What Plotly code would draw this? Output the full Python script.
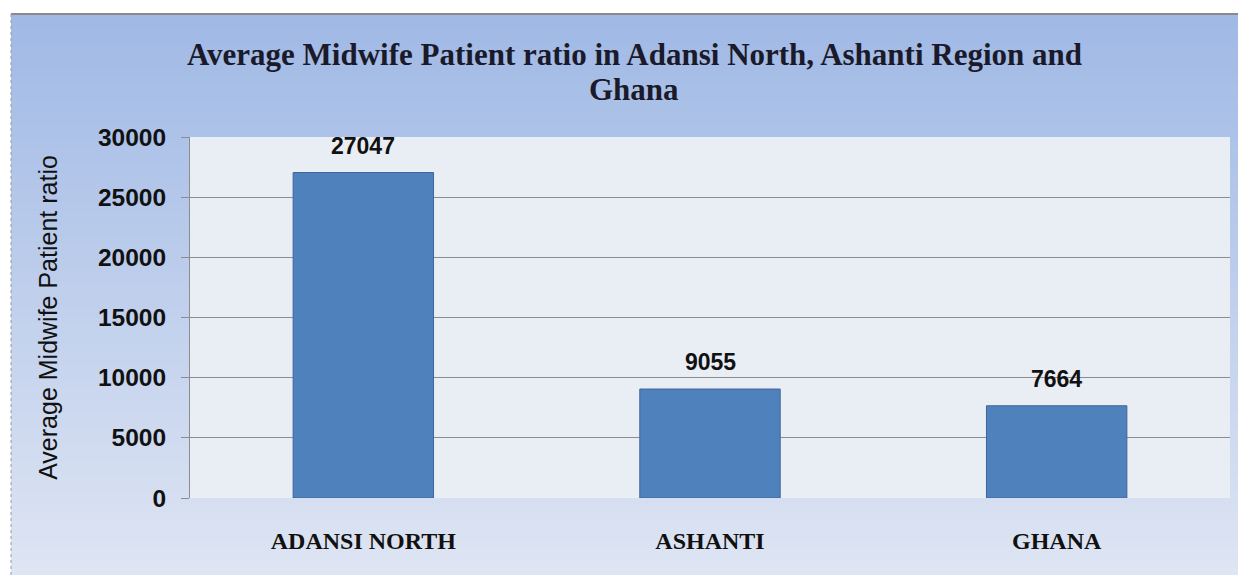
import plotly.graph_objects as go

categories = ["ADANSI NORTH", "ASHANTI", "GHANA"]
values = [27047, 9055, 7664]
y_ticks = [0, 5000, 10000, 15000, 20000, 25000, 30000]
title_lines = ["Average Midwife Patient ratio in Adansi North, Ashanti Region and", "Ghana"]

OFF = 8  # page body margin
W, H = 1246 - OFF, 575 - OFF
L, T = 190 - OFF, 137 - OFF
R = W - (1230 - OFF)
B = H - (498 - OFF)
PW, PH = W - L - R, H - T - B

def px_x(px):
    return (px - OFF - L) / PW

def px_y(py):
    return (H - B - (py - OFF)) / PH

fig = go.Figure()
fig.add_trace(go.Bar(
    x=categories, y=values,
    marker=dict(color="#4f81bd", line=dict(color="#3d6699", width=1)),
    width=0.405,
))
for c, v in zip(categories, values):
    fig.add_annotation(x=c, y=v, text=str(v), showarrow=False, yanchor="bottom", yshift=12,
                       font=dict(family="Liberation Sans", size=23, color="#111111", weight="bold"))

for line, py in zip(title_lines, [55, 90]):
    fig.add_annotation(xref="paper", yref="paper", x=px_x(634), y=px_y(py), text=line,
                       showarrow=False, xanchor="center", yanchor="middle",
                       font=dict(family="Liberation Serif", size=31, color="#1a1a2a", weight="bold"))

# gradient background via strips
shapes = []
n = 80
top = (160, 185, 229)
bot = (222, 229, 243)
x0, x1 = px_x(11), px_x(1246)
y0, y1 = px_y(575), px_y(14)
step = (y1 - y0) / n
for i in range(n):
    t = i / (n - 1)
    c = tuple(round(top[k] + (bot[k] - top[k]) * t) for k in range(3))
    ya = y1 - step * i
    yb = max(y0, ya - step * 1.6)
    shapes.append(dict(type="rect", xref="paper", yref="paper", x0=x0, x1=x1, y0=yb, y1=ya,
                       fillcolor="rgb(%d,%d,%d)" % c, line=dict(width=0), layer="below"))
shapes.append(dict(type="line", xref="paper", yref="paper", x0=x0, x1=x1, y0=y1, y1=y1,
                   line=dict(color="#8a8a8a", width=2), layer="below"))
shapes.append(dict(type="line", xref="paper", yref="paper", x0=x0, x1=x0, y0=y0, y1=y1,
                   line=dict(color="#9a9a9a", width=1, dash="dot"), layer="below"))
shapes.append(dict(type="rect", xref="paper", yref="paper", x0=0, x1=1, y0=0, y1=1,
                   fillcolor="#e9edf4", line=dict(width=0), layer="below"))

fig.update_layout(
    width=W, height=H,
    margin=dict(l=L, r=R, t=T, b=B),
    paper_bgcolor="white", plot_bgcolor="rgba(0,0,0,0)",
    shapes=shapes,
    showlegend=False,
    xaxis=dict(tickfont=dict(family="Liberation Serif", size=24, color="#111111", weight="bold"),
               showline=False, ticks="", ticklabelstandoff=26, automargin=False),
    yaxis=dict(range=[0, 30000], tickvals=y_ticks, ticktext=[str(v) for v in y_ticks],
               tickfont=dict(family="Liberation Sans", size=24.5, color="#111111", weight="bold"),
               showgrid=True, gridcolor="#8c8c8c", gridwidth=1,
               showline=True, linecolor="#8c8c8c", linewidth=1,
               ticks="outside", ticklen=8, tickcolor="#8c8c8c", zeroline=False,
               ticklabelstandoff=10, automargin=False,
               title=dict(text="Average Midwife Patient ratio", standoff=33,
                          font=dict(family="Liberation Sans", size=25, color="#111111"))),
)
fig.write_html("out.html")
